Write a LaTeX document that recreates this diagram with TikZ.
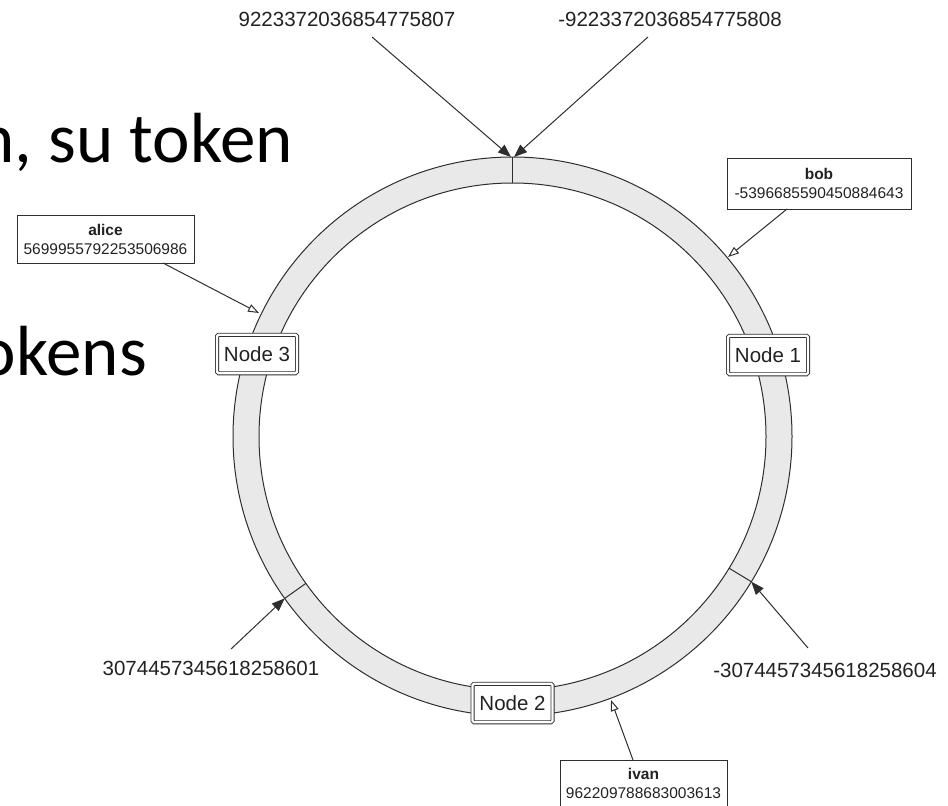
\documentclass[tikz,border=0pt]{standalone}
\usepackage{fontspec}
\setmainfont{Liberation Sans}
\newfontfamily\slidefont{Carlito}
\usetikzlibrary{arrows.meta,calc}
\definecolor{ringfill}{HTML}{E9E9E9}
\definecolor{ink}{HTML}{222222}
\definecolor{edge}{HTML}{2E2E2E}

\begin{document}
\begin{tikzpicture}[x=1pt,y=-1pt,
  tokenlabel/.style={font=\fontsize{20.5}{24}\selectfont, text=ink, inner sep=0pt},
  ringnode/.style={draw=edge, line width=0.8pt, double=white, double distance=2.4pt,
    fill=white, rounded corners=1.5pt, minimum width=80pt, minimum height=38.5pt,
    inner sep=0pt, font=\fontsize{20.5}{24}\selectfont, text=ink},
  keybox/.style={draw=edge, line width=1pt, fill=white, align=center, inner sep=0pt,
    font=\fontsize{15.5}{19}\selectfont, text=ink},
  tokenarrow/.style={draw=edge, line width=1pt, -{Triangle[length=13pt,width=10pt]}},
  keyarrow/.style={draw=edge, line width=1pt, -{Triangle[open,length=11pt,width=8pt,fill=white]}},
  slidetext/.style={font=\slidefont\fontsize{71}{85}\selectfont, text=black, inner sep=0pt},
]
\clip (0,0) rectangle (948,806);
\useasboundingbox (0,0) rectangle (948,806);

% slide text behind the ring
\node[slidetext, anchor=base east] (line1) at (293,162) {n, su token};
\node[slidetext, anchor=base east] (line2) at (147,375) {okens};

% the token ring
\coordinate (c) at (512.5,436.5);
\fill[ringfill, even odd rule] (c) circle[radius=279.5] (c) circle[radius=253.5];
\draw[edge, line width=1pt] (c) circle[radius=279.5] (c) circle[radius=253.5];

% range boundaries
\coordinate (topin)   at ($(c)+(-90:253.5)$);
\coordinate (topout)  at ($(c)+(-90:279.5)$);
\coordinate (leftin)  at ($(c)+(144.6:253.5)$);
\coordinate (leftout) at ($(c)+(144.6:279.5)$);
\coordinate (rightin) at ($(c)+(31.3:253.5)$);
\coordinate (rightout)at ($(c)+(31.3:279.5)$);
\draw[edge, line width=1pt] (topin) -- (topout);
\draw[edge, line width=1pt] (leftin) -- (leftout);
\draw[edge, line width=1pt] (rightin) -- (rightout);

% nodes on the ring
\node[ringnode] (n1) at (768,355) {Node 1};
\node[ringnode] (n2) at (512.5,703) {Node 2};
\node[ringnode] (n3) at (257,354) {Node 3};

% token boundary labels
\node[tokenlabel] (tmax) at (347,19) {9223372036854775807};
\node[tokenlabel] (tmin) at (670,19) {-9223372036854775808};
\node[tokenlabel] (tpos) at (211,668) {3074457345618258601};
\node[tokenlabel] (tneg) at (825,670) {-3074457345618258604};
\coordinate (tmaxfoot) at (372,37);
\coordinate (tminfoot) at (648,37);
\coordinate (tposfoot) at (231,649);
\coordinate (tnegfoot) at (808,648);
\draw[tokenarrow] (tmaxfoot) -- ($(topout)+(-1.5,0)$);
\draw[tokenarrow] (tminfoot) -- ($(topout)+(1.5,0)$);
\draw[tokenarrow] (tposfoot) -- (leftout);
\draw[tokenarrow] (tnegfoot) -- (rightout);

% keys and their tokens
\node[keybox, minimum width=184pt, minimum height=51pt] (bob) at (819,183.5)
  {\textbf{bob}\\-5396685590450884643};
\node[keybox, minimum width=177pt, minimum height=48pt] (alice) at (105.5,239)
  {\textbf{alice}\\5699955792253506986};
\node[keybox, minimum width=167pt, minimum height=47pt] (ivan) at (643.5,783.5)
  {\textbf{ivan}\\962209788683003613};
\coordinate (bobfoot) at (787,209);
\coordinate (alicefoot) at (163,263);
\coordinate (ivanhead) at (633,760);
\coordinate (bobtip) at (728,257);
\coordinate (alicetip) at (259,313);
\coordinate (ivantip) at (611,700);
\draw[keyarrow] (bobfoot) -- (bobtip);
\draw[keyarrow] (alicefoot) -- (alicetip);
\draw[keyarrow] (ivanhead) -- (ivantip);
\end{tikzpicture}
\end{document}
